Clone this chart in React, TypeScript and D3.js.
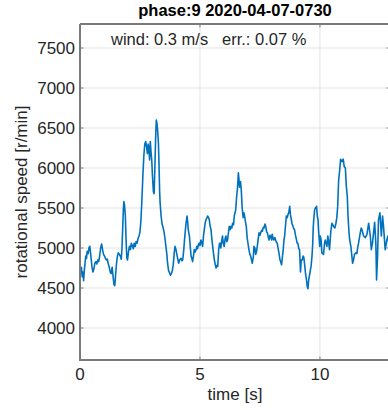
import React from 'react';
import * as d3 from 'd3';

const timeS = [
  0.00, 0.03, 0.06, 0.09, 0.12, 0.15, 0.18, 0.21, 0.24, 0.27, 0.30, 0.34, 0.38, 0.41, 0.44, 0.47, 0.50, 0.54, 0.58, 0.62,
  0.66, 0.70, 0.74, 0.78, 0.82, 0.86, 0.90, 0.94, 0.98, 1.02, 1.06, 1.10, 1.14, 1.18, 1.22, 1.26, 1.30, 1.34, 1.38, 1.42,
  1.45, 1.48, 1.52, 1.56, 1.60, 1.64, 1.68, 1.72, 1.75, 1.78, 1.81, 1.83, 1.86, 1.89, 1.92, 1.95, 1.98, 2.02, 2.06, 2.10,
  2.14, 2.18, 2.22, 2.26, 2.30, 2.34, 2.38, 2.42, 2.46, 2.50, 2.54, 2.58, 2.62, 2.66, 2.70, 2.74, 2.78, 2.81, 2.84, 2.87,
  2.90, 2.93, 2.96, 2.99, 3.02, 3.06, 3.09, 3.12, 3.15, 3.18, 3.21, 3.24, 3.27, 3.30, 3.32, 3.34, 3.38, 3.42, 3.46, 3.51,
  3.55, 3.58, 3.62, 3.65, 3.69, 3.73, 3.77, 3.81, 3.85, 3.89, 3.93, 3.96, 4.00, 4.03, 4.07, 4.11, 4.15, 4.21, 4.25, 4.28,
  4.32, 4.35, 4.39, 4.42, 4.46, 4.49, 4.51, 4.56, 4.60, 4.63, 4.67, 4.69, 4.73, 4.76, 4.80, 4.83, 4.87, 4.90, 4.94, 4.97,
  5.00, 5.04, 5.08, 5.11, 5.15, 5.18, 5.22, 5.25, 5.29, 5.32, 5.36, 5.39, 5.42, 5.46, 5.50, 5.53, 5.57, 5.60, 5.64, 5.67,
  5.70, 5.74, 5.78, 5.81, 5.83, 5.87, 5.90, 5.94, 5.97, 6.01, 6.05, 6.08, 6.12, 6.15, 6.19, 6.22, 6.26, 6.29, 6.33, 6.36,
  6.40, 6.43, 6.49, 6.53, 6.56, 6.60, 6.62, 6.65, 6.69, 6.72, 6.76, 6.80, 6.83, 6.86, 6.90, 6.93, 6.97, 7.00, 7.04, 7.08,
  7.11, 7.15, 7.18, 7.22, 7.25, 7.29, 7.32, 7.36, 7.39, 7.43, 7.46, 7.50, 7.53, 7.57, 7.60, 7.64, 7.67, 7.71, 7.74, 7.78,
  7.81, 7.85, 7.88, 7.92, 7.95, 7.99, 8.01, 8.05, 8.08, 8.12, 8.15, 8.19, 8.22, 8.26, 8.29, 8.33, 8.36, 8.40, 8.44, 8.47,
  8.50, 8.53, 8.57, 8.60, 8.64, 8.67, 8.70, 8.74, 8.77, 8.81, 8.84, 8.88, 8.91, 8.94, 8.98, 9.01, 9.05, 9.08, 9.12, 9.15,
  9.19, 9.22, 9.26, 9.30, 9.33, 9.37, 9.40, 9.44, 9.47, 9.50, 9.53, 9.56, 9.60, 9.63, 9.67, 9.70, 9.72, 9.74, 9.78, 9.81,
  9.86, 9.89, 9.92, 9.94, 9.99, 10.01, 10.05, 10.08, 10.15, 10.19, 10.22, 10.29, 10.33, 10.40, 10.45, 10.50, 10.57, 10.62, 10.66, 10.70,
  10.74, 10.78, 10.82, 10.86, 10.92, 10.97, 11.01, 11.06, 11.10, 11.14, 11.17, 11.21, 11.24, 11.29, 11.33, 11.36, 11.40, 11.44, 11.50, 11.54,
  11.58, 11.61, 11.68, 11.72, 11.75, 11.82, 11.89, 11.96, 12.03, 12.10, 12.14, 12.19, 12.28, 12.33, 12.36, 12.40, 12.44, 12.50, 12.56, 12.61,
  12.65, 12.72, 12.79, 12.83, 12.88, 12.92,
];

const rpm = [
  4780, 4700, 4760, 4640, 4700, 4590, 4720, 4810, 4900, 4870, 4960, 4930, 5010, 5020, 4940, 4850, 4760, 4700, 4740, 4810,
  4830, 4800, 4850, 4830, 4900, 5000, 5050, 4980, 4920, 4900, 4870, 4850, 4860, 4800, 4760, 4700, 4680, 4760, 4640, 4540,
  4530, 4650, 4800, 4900, 4940, 4920, 4900, 4860, 5000, 5250, 5500, 5580, 5520, 5400, 5100, 4880, 4850, 4950, 5020, 4980,
  5060, 5030, 4990, 5060, 5020, 5080, 5060, 5120, 5150, 5200, 5350, 5600, 5900, 6150, 6300, 6330, 6250, 6180, 6300, 6250,
  6100, 6330, 6200, 6100, 5900, 5700, 5680, 6000, 6350, 6600, 6550, 6450, 6300, 5950, 5700, 5560, 5400, 5300, 5260, 5190,
  5100, 5020, 4920, 4810, 4720, 4690, 4660, 4680, 4720, 4800, 4950, 5020, 4980, 4930, 4870, 4810, 4850, 4870, 4840, 4850,
  4960, 5080, 5220, 5310, 5400, 5320, 5230, 5150, 5000, 4900, 4860, 4830, 4900, 4980, 4950, 4970, 5020, 4990, 5050, 5060,
  5030, 5100, 5060, 5020, 5160, 5230, 5320, 5350, 5380, 5400, 5380, 5350, 5280, 5230, 5100, 5020, 4920, 4850, 4790, 4750,
  4780, 4770, 4980, 5050, 5060, 5000, 5080, 5150, 5060, 5020, 5120, 5150, 5080, 5100, 5200, 5270, 5230, 5270, 5250, 5310,
  5290, 5400, 5480, 5650, 5730, 5940, 5880, 5760, 5830, 5730, 5500, 5380, 5440, 5400, 5320, 5270, 5120, 5060, 4980, 4920,
  4900, 4850, 4810, 4880, 5020, 5000, 4920, 4960, 5020, 5120, 5190, 5160, 5190, 5220, 5210, 5260, 5250, 5300, 5270, 5200,
  5190, 5130, 5100, 5160, 5150, 5100, 5170, 5120, 5100, 5130, 5100, 5070, 5060, 4990, 4940, 4860, 4830, 4790, 4900, 4980,
  5100, 5150, 5300, 5400, 5380, 5420, 5440, 5520, 5420, 5350, 5300, 5270, 5240, 5230, 5160, 5120, 5060, 5060, 4990, 4980,
  4700, 4850, 4850, 4900, 4880, 4770, 4680, 4600, 4520, 4490, 4600, 4650, 4720, 4770, 4900, 5060, 5250, 5350, 5480, 5500,
  5520, 5400, 5350, 5230, 5020, 5150, 5100, 4940, 4920, 5060, 5100, 5020, 5150, 4980, 5200, 5310, 5270, 5250, 5300, 5370,
  5520, 5850, 5960, 6110, 6080, 6110, 6020, 6000, 5770, 5650, 5400, 5200, 5100, 5020, 4900, 4810, 4850, 4920, 4940, 4930,
  5020, 5060, 5190, 5250, 5230, 5150, 5130, 5170, 5310, 5150, 4980, 5060, 5320, 5060, 4600, 4880, 5350, 5440, 5150, 5400,
  5270, 4980, 5100, 5150, 5050, 5120,
];

const xTicks = [0, 5, 10];
const yTicks = [4000, 4500, 5000, 5500, 6000, 6500, 7000, 7500];
const xDomain = [0, 12.92];
const yDomain = [3600, 7800];
const titleText = 'phase:9 2020-04-07-0730';
const noteText = 'wind: 0.3 m/s   err.: 0.07 %';
const xLabel = 'time [s]';
const yLabel = 'rotational speed [r/min]';

export default function App() {
  const W = 388, H = 410;
  const L = 80, R = 390, T = 24, B = 360;
  const x = d3.scaleLinear().domain(xDomain).range([L, R]);
  const y = d3.scaleLinear().domain(yDomain).range([B, T]);
  const pts: [number, number][] = timeS.map((t, i) => [t, rpm[i]]);
  const line = d3.line<[number, number]>().x(d => x(d[0])).y(d => y(d[1]));
  const font = '"Liberation Sans", Arial, Helvetica, sans-serif';
  const txt = '#262626';
  const axisC = '#7a7a7a';
  const gridC = '#e3e3e3';
  const tl = 3.5;
  return (
    <svg width={W} height={H} style={{ position: 'absolute', left: 0, top: 0, background: '#fff' }} fontFamily={font}>
      <defs>
        <clipPath id="plotclip">
          <rect x={L} y={T} width={R - L} height={B - T} />
        </clipPath>
      </defs>
      {xTicks.filter(t => t > 0).map(t => (
        <line key={'gx' + t} x1={x(t)} x2={x(t)} y1={T} y2={B} stroke={gridC} strokeWidth={1} />
      ))}
      {yTicks.map(v => (
        <line key={'gy' + v} x1={L} x2={R} y1={y(v)} y2={y(v)} stroke={gridC} strokeWidth={1} />
      ))}
      <path d={line(pts) || ''} fill="none" stroke="#0072BD" strokeWidth={1.6} strokeLinejoin="round" clipPath="url(#plotclip)" />
      <line x1={L} x2={L} y1={T} y2={B + 1} stroke={axisC} strokeWidth={2} />
      <line x1={L} x2={R} y1={B} y2={B} stroke={axisC} strokeWidth={2} />
      <line x1={L} x2={R} y1={T} y2={T} stroke={axisC} strokeWidth={2} />
      <line x1={R} x2={R} y1={T} y2={B} stroke={axisC} strokeWidth={2} />
      {yTicks.map(v => (
        <g key={'ty' + v}>
          <line x1={L} x2={L + tl} y1={y(v)} y2={y(v)} stroke={axisC} strokeWidth={1} />
          <line x1={R - tl} x2={R} y1={y(v)} y2={y(v)} stroke={axisC} strokeWidth={1} />
          <text x={L - 5} y={y(v) + 6} textAnchor="end" fontSize={17} fill={txt}>{v}</text>
        </g>
      ))}
      {xTicks.map(t => (
        <g key={'tx' + t}>
          <line x1={x(t)} x2={x(t)} y1={B} y2={B - tl} stroke={axisC} strokeWidth={1} />
          <line x1={x(t)} x2={x(t)} y1={T} y2={T + tl} stroke={axisC} strokeWidth={1} />
          <text x={x(t)} y={380} textAnchor="middle" fontSize={17} fill={txt}>{t}</text>
        </g>
      ))}
      <text x={(L + R) / 2} y={16} textAnchor="middle" fontSize={16.5} fontWeight="bold" fill="#000">{titleText}</text>
      <text x={111} y={45} fontSize={16.5} fill={txt} style={{ whiteSpace: 'pre' }}>{noteText}</text>
      <text x={(L + R) / 2} y={400} textAnchor="middle" fontSize={17} fill={txt}>{xLabel}</text>
      <text transform={`translate(27, ${(T + B) / 2}) rotate(-90)`} textAnchor="middle" fontSize={17} fill={txt}>{yLabel}</text>
    </svg>
  );
}
